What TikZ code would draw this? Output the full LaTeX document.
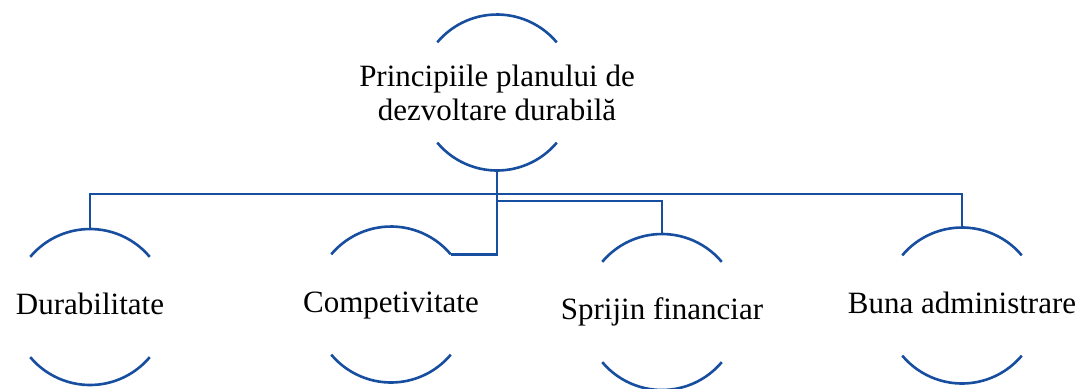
\documentclass[tikz,border=0pt]{standalone}
\usepackage{fontspec}
\setmainfont{Liberation Serif}
\newfontfamily\diagfont{Liberation Serif}
\definecolor{linkblue}{RGB}{23,78,160}

\begin{document}
\begin{tikzpicture} [x=.5pt, y=.5pt,
	ring/.style={circle, minimum size=78pt, inner sep=0pt, outer sep=0pt},
	link/.style={draw=linkblue, line width=1.3pt},
	txt/.style={font=\diagfont\fontsize{15.5}{17}\selectfont, inner sep=0pt},
	oneline/.style={text height=11.6pt, text depth=3.9pt}]

		\useasboundingbox (0,0) rectangle (1081,388);

		\node[ring] (top) at (497,295.5) {};

		\node[ring] (dur) at (90,81) {};

		\node[ring] (comp) at (391,83.5) {};

		\node[ring] (spr) at (662,76) {};

		\node[ring] (buna) at (962,82.5) {};

		\node[txt, align=center] (top-txt) at (top)%
		{Principiile planului de\\ dezvoltare durabilă};

		\node[txt, oneline] (dur-txt) at (dur) {Durabilitate};

		\node[txt, oneline] (comp-txt) at (comp) {Competivitate};

		\node[txt, oneline] (spr-txt) at (spr) {Sprijin financiar};

		\node[txt, oneline] (buna-txt) at (buna) {Buna administrare};

		\foreach \n in {top,dur,comp,spr,buna}
			\draw[link] (\n.40) arc[start angle=40, end angle=140, radius=39pt]
				(\n.220) arc[start angle=220, end angle=320, radius=39pt];

		\coordinate (bus) at (497,194);

		\coordinate (bus2) at (497,187);

		\draw[link] (top.south) |- (comp.40);

		\draw[link] (dur.north) |- (bus) -| (buna.north);

		\draw[link] (bus2) -| (spr.north);
	\end{tikzpicture}
\end{document}
